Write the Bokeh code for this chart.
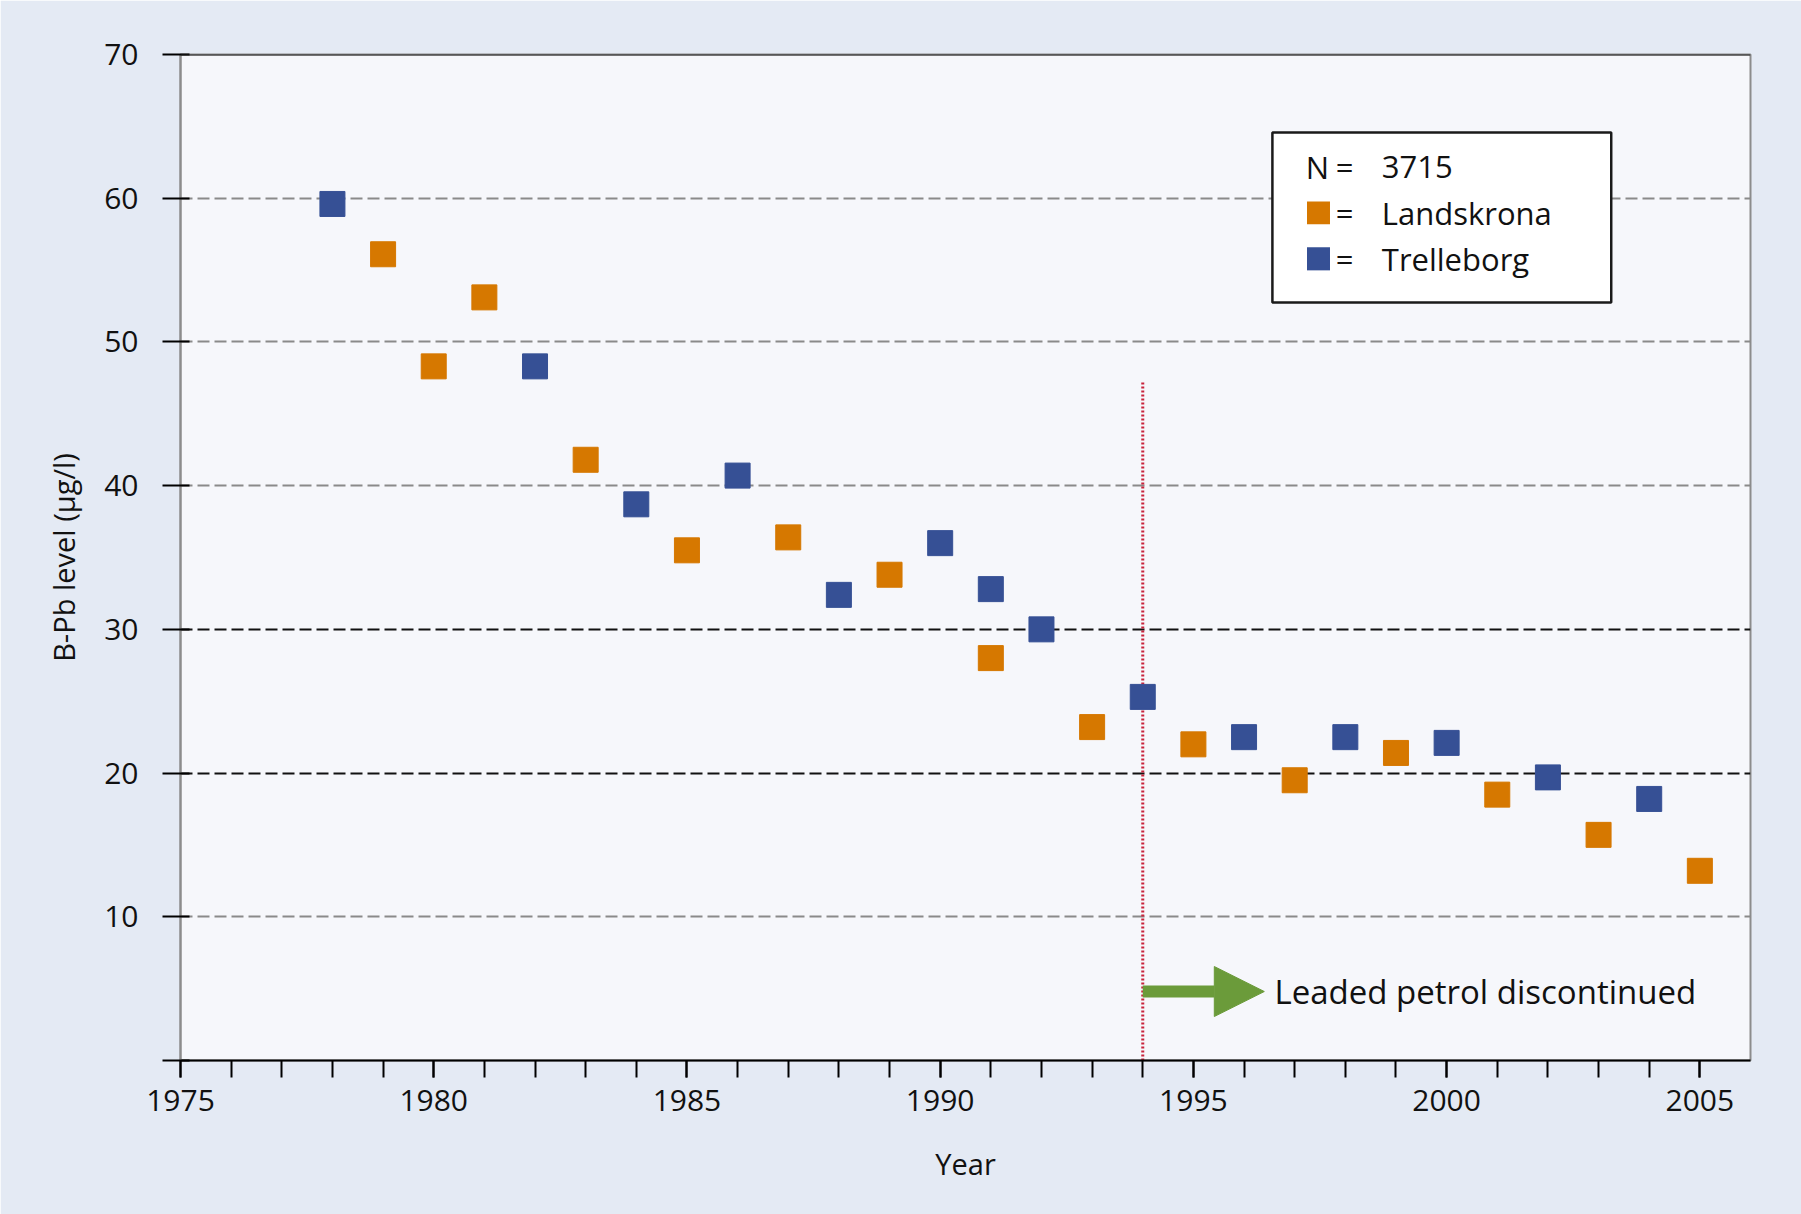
from bokeh.plotting import figure
from bokeh.models import (ColumnDataSource, Range1d, FixedTicker, Grid, Span, Label,
                          BoxAnnotation, Arrow, NormalHead)
from bokeh.embed import file_html
from bokeh.resources import INLINE

# ---------------- data ----------------
trelleborg_years = [1978, 1982, 1984, 1986, 1988, 1990, 1991, 1992, 1994, 1996, 1998, 2000, 2002, 2004]
trelleborg_values = [59.6, 48.3, 38.7, 40.7, 32.4, 36.0, 32.8, 30.0, 25.3, 22.5, 22.5, 22.1, 19.7, 18.2]

landskrona_years = [1979, 1980, 1981, 1983, 1985, 1987, 1989, 1991, 1993, 1995, 1997, 1999, 2001, 2003, 2005]
landskrona_values = [56.1, 48.3, 53.1, 41.8, 35.5, 36.4, 33.8, 28.0, 23.2, 22.0, 19.5, 21.4, 18.5, 15.7, 13.2]

x_major_ticks = [1975, 1980, 1985, 1990, 1995, 2000, 2005]
x_minor_ticks = list(range(1975, 2006))
y_ticks = [0, 10, 20, 30, 40, 50, 60, 70]

event_year = 1994
event_line_top = 47.2
event_text = "Leaded petrol discontinued"
n_total = "3715"
series_names = ["Landskrona", "Trelleborg"]

# ---------------- style ----------------
ORANGE = "#d67800"
BLUE = "#365095"
GREEN = "#6b9b3a"
RED = "#c8243c"
OUTER = "#e4eaf4"
INNER = "#f6f7fb"
FONT = "Open Sans"
TXT = "#111111"

p = figure(width=1801, height=1214, output_backend="svg", toolbar_location=None,
           x_range=Range1d(1975, 2006), y_range=Range1d(0, 70),
           min_border_left=180, min_border_right=51, min_border_top=54, min_border_bottom=154)
p.background_fill_color = INNER
p.border_fill_color = OUTER
p.outline_line_color = "#8c8c8c"
p.outline_line_width = 2

# x axis
xa = p.xaxis[0]
xa.ticker = FixedTicker(ticks=x_major_ticks, minor_ticks=x_minor_ticks)
xa.axis_line_color = "black"
xa.axis_line_width = 2
xa.major_tick_line_color = "black"
xa.major_tick_line_width = 2
xa.major_tick_out = 17
xa.major_tick_in = 0
xa.minor_tick_line_color = "black"
xa.minor_tick_line_width = 2
xa.minor_tick_out = 17
xa.minor_tick_in = 0
xa.major_label_text_font = FONT
xa.major_label_text_font_size = "30px"
xa.major_label_text_color = TXT
xa.major_label_standoff = 12
xa.axis_label = "Year"
xa.axis_label_text_font = FONT
xa.axis_label_text_font_style = "normal"
xa.axis_label_text_font_size = "29px"
xa.axis_label_text_color = TXT
xa.axis_label_standoff = 30

# y axis
ya = p.yaxis[0]
ya.ticker = FixedTicker(ticks=y_ticks)
ya.major_label_overrides = {0: ""}
ya.axis_line_color = "#8c8c8c"
ya.axis_line_width = 2
ya.major_tick_line_color = "black"
ya.major_tick_line_width = 2
ya.major_tick_out = 18
ya.major_tick_in = 9
ya.minor_tick_line_color = None
ya.major_label_text_font = FONT
ya.major_label_text_font_size = "30px"
ya.major_label_text_color = TXT
ya.major_label_standoff = 24
ya.axis_label = "B-Pb level (µg/l)"
ya.axis_label_text_font = FONT
ya.axis_label_text_font_style = "normal"
ya.axis_label_text_font_size = "29px"
ya.axis_label_text_color = TXT
ya.axis_label_standoff = 18

# grids
p.xgrid.grid_line_color = None
p.ygrid[0].ticker = FixedTicker(ticks=[10, 40, 50, 60])
p.ygrid[0].grid_line_color = "#8a8a8a"
p.ygrid[0].grid_line_width = 2
p.ygrid[0].grid_line_dash = "12 5"
g2 = Grid(dimension=1, ticker=FixedTicker(ticks=[20, 30]), grid_line_color=TXT,
          grid_line_width=2, grid_line_dash="12 5")
p.add_layout(g2)
p.add_layout(Span(location=70, dimension="width", line_color="#222222", line_width=2))

# event line
p.segment(x0=[event_year], y0=[0], x1=[event_year], y1=[event_line_top],
          line_color=RED, line_width=3, line_dash="2 2")

# data
src_t = ColumnDataSource(dict(x=trelleborg_years, y=trelleborg_values))
src_l = ColumnDataSource(dict(x=landskrona_years, y=landskrona_values))
p.scatter("x", "y", source=src_l, marker="square", size=25, fill_color=ORANGE, line_color=ORANGE)
p.scatter("x", "y", source=src_t, marker="square", size=25, fill_color=BLUE, line_color=BLUE)

# arrow annotation
arrow_y = 4.8
p.add_layout(Arrow(x_start=event_year, y_start=arrow_y, x_end=1996.4, y_end=arrow_y,
                   line_color=GREEN, line_width=12,
                   end=NormalHead(size=50, fill_color=GREEN, line_color=GREEN, line_width=1)))
p.add_layout(Label(x=1996.6, y=arrow_y, text=event_text, text_font=FONT,
                   text_font_size="33px", text_baseline="middle", text_color=TXT))

# manual legend box
p.add_layout(BoxAnnotation(left=1996.56, right=2003.25, bottom=52.74, top=64.57,
                           fill_color="white", fill_alpha=1.0, line_color="#1a1a1a",
                           line_alpha=1.0, line_width=2.5, level="overlay"))
row_y = [62.17, 58.98, 55.78]
sq_x, sq_hx, sq_hy = 1997.47, 0.227, 0.80
for col, yy in [(ORANGE, row_y[1]), (BLUE, row_y[2])]:
    p.add_layout(BoxAnnotation(left=sq_x - sq_hx, right=sq_x + sq_hx, bottom=yy - sq_hy, top=yy + sq_hy,
                               fill_color=col, fill_alpha=1.0, line_alpha=0, level="overlay"))
for txt, xx, yy in [("N", 1997.22, row_y[0]), ("=", 1997.81, row_y[0]), ("=", 1997.81, row_y[1]),
                    ("=", 1997.81, row_y[2]), (n_total, 1998.72, row_y[0]),
                    (series_names[0], 1998.72, row_y[1]), (series_names[1], 1998.72, row_y[2])]:
    p.add_layout(Label(x=xx, y=yy, text=txt, text_font=FONT, text_font_size="31px",
                       text_baseline="middle", text_color=TXT, level="overlay"))

open("out.html", "w").write(file_html(p, INLINE))
